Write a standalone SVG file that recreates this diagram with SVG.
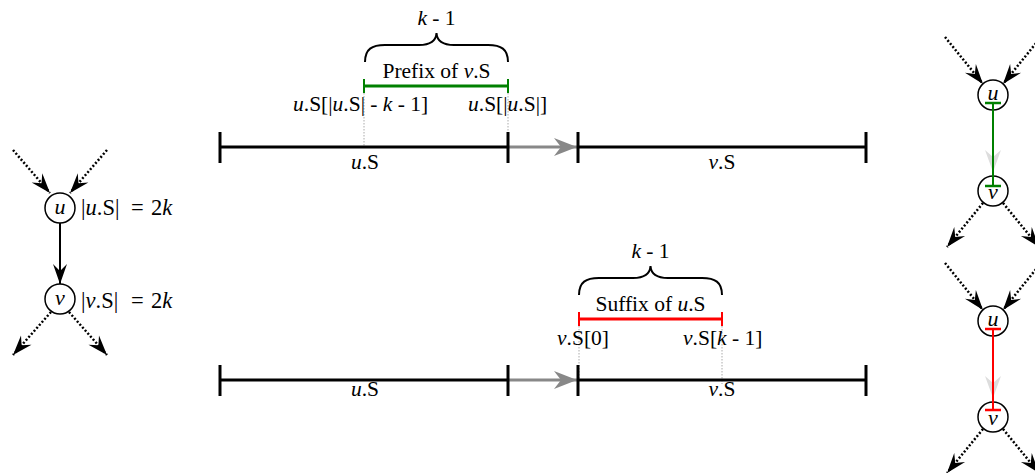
<svg xmlns="http://www.w3.org/2000/svg" width="1035" height="473" viewBox="0 0 1035 473">
<style>
text{font-family:"Liberation Serif","Times New Roman",serif;font-size:21.5px;fill:#000}
.i{font-style:italic}
.lbl{font-size:22.5px}
.nl{font-size:22px}
.node{fill:#fff;stroke:#000;stroke-width:1.5}
.dot{fill:none;stroke:#000;stroke-width:2.5;stroke-dasharray:2 2}
.bar{stroke:#000;stroke-width:3;fill:none}
.tick{stroke:#000;stroke-width:3}
.guide{stroke:#aaa;stroke-width:1;stroke-dasharray:1.5 1.5;fill:none}
.brace{fill:none;stroke:#000;stroke-width:2}
.mid{text-anchor:middle}
</style>
<defs>
<marker id="stealth" markerUnits="userSpaceOnUse" viewBox="-21 -8 22 16" refX="0" refY="0" markerWidth="22" markerHeight="16" orient="auto">
<path d="M0,0 L-20,-7 L-13,0 L-20,7 Z" fill="#000"/>
</marker>
<marker id="stealthGray" markerUnits="userSpaceOnUse" viewBox="-23 -10 24 20" refX="0" refY="0" markerWidth="24" markerHeight="20" orient="auto">
<path d="M0,0 L-23,-9 L-16,0 L-23,9 Z" fill="#888"/>
</marker>
<marker id="stealthLight" markerUnits="userSpaceOnUse" viewBox="-23 -10 24 20" refX="0" refY="0" markerWidth="24" markerHeight="20" orient="auto">
<path d="M0,0 L-22,-8 L-15,0 L-22,8 Z" fill="#ddd"/>
</marker>
</defs>

<!-- connectors -->
<g id="connectors">
  <!-- left graph -->
  <line class="dot" x1="13" y1="150" x2="50" y2="193" marker-end="url(#stealth)"/>
  <line class="dot" x1="107" y1="150" x2="70" y2="193" marker-end="url(#stealth)"/>
  <line x1="60" y1="223" x2="60" y2="284" stroke="#000" stroke-width="2" marker-end="url(#stealth)"/>
  <line class="dot" x1="51" y1="312" x2="13" y2="355" marker-end="url(#stealth)"/>
  <line class="dot" x1="69" y1="312" x2="107" y2="355" marker-end="url(#stealth)"/>
  <!-- right top graph -->
  <line class="dot" x1="945" y1="37" x2="983" y2="84" marker-end="url(#stealth)"/>
  <line class="dot" x1="1041" y1="37" x2="1003" y2="84" marker-end="url(#stealth)"/>
  <line x1="993" y1="110" x2="993" y2="172" stroke="#ddd" stroke-width="1.5" marker-end="url(#stealthLight)"/>
  <line class="dot" x1="983" y1="203" x2="947" y2="247" marker-end="url(#stealth)"/>
  <line class="dot" x1="1003" y1="203" x2="1039" y2="247" marker-end="url(#stealth)"/>
  <!-- right bottom graph -->
  <line class="dot" x1="945" y1="263" x2="983" y2="310" marker-end="url(#stealth)"/>
  <line class="dot" x1="1041" y1="263" x2="1003" y2="310" marker-end="url(#stealth)"/>
  <line x1="993" y1="336" x2="993" y2="398" stroke="#ddd" stroke-width="1.5" marker-end="url(#stealthLight)"/>
  <line class="dot" x1="983" y1="429" x2="947" y2="473" marker-end="url(#stealth)"/>
  <line class="dot" x1="1003" y1="429" x2="1039" y2="473" marker-end="url(#stealth)"/>
  <!-- gray arrows between bars -->
  <line x1="508" y1="147" x2="577" y2="147" stroke="#888" stroke-width="3" marker-end="url(#stealthGray)"/>
  <line x1="508" y1="380" x2="577" y2="380" stroke="#888" stroke-width="3" marker-end="url(#stealthGray)"/>
</g>

<!-- left graph nodes -->
<g id="left-u">
  <circle class="node" cx="60" cy="208" r="15"/>
  <text class="i mid nl" x="60" y="214">u</text>
</g>
<g id="left-v">
  <circle class="node" cx="60" cy="299" r="15"/>
  <text class="i mid nl" x="60" y="305">v</text>
</g>
<g id="left-u-label">
  <text class="lbl" x="81" y="215">|<tspan class="i">u</tspan>.S|</text>
  <text class="lbl" x="131" y="215">=</text>
  <text class="lbl" x="151" y="215">2<tspan class="i">k</tspan></text>
</g>
<g id="left-v-label">
  <text class="lbl" x="81" y="308">|<tspan class="i">v</tspan>.S|</text>
  <text class="lbl" x="131" y="308">=</text>
  <text class="lbl" x="151" y="308">2<tspan class="i">k</tspan></text>
</g>

<!-- top strings -->
<g id="top-strings">
  <line class="guide" x1="364" y1="93" x2="364" y2="147"/>
  <line class="guide" x1="508" y1="93" x2="508" y2="147"/>
  <line class="bar" x1="220" y1="147" x2="508" y2="147"/>
  <line class="bar" x1="578" y1="147" x2="866" y2="147"/>
  <line class="tick" x1="220" y1="132" x2="220" y2="163"/>
  <line class="tick" x1="508" y1="132" x2="508" y2="163"/>
  <line class="tick" x1="578" y1="132" x2="578" y2="163"/>
  <line class="tick" x1="866" y1="132" x2="866" y2="163"/>
  <text class="mid" x="365" y="169"><tspan class="i">u</tspan>.S</text>
  <text class="mid" x="722" y="169"><tspan class="i">v</tspan>.S</text>
</g>
<g id="prefix">
  <line x1="364" y1="86" x2="508" y2="86" stroke="#008000" stroke-width="3"/>
  <line x1="364" y1="79" x2="364" y2="93" stroke="#008000" stroke-width="2"/>
  <line x1="508" y1="79" x2="508" y2="93" stroke="#008000" stroke-width="2"/>
  <path class="brace" d="M365,62 C365,49 372,45 385,45 L419,45 C430,45 436,41 436.5,33 C437,41 443,45 454,45 L488,45 C501,45 508,49 508,62"/>
  <text class="mid" x="436.5" y="25"><tspan class="i">k</tspan> - 1</text>
  <text class="mid" x="436.5" y="78">Prefix of <tspan class="i">v</tspan>.S</text>
  <text x="293" y="111"><tspan class="i">u</tspan>.S[|<tspan class="i">u</tspan>.S| - <tspan class="i">k</tspan> - 1]</text>
  <text x="468" y="111"><tspan class="i">u</tspan>.S[|<tspan class="i">u</tspan>.S|]</text>
</g>

<!-- bottom strings -->
<g id="bottom-strings">
  <line class="guide" x1="579" y1="326" x2="579" y2="380"/>
  <line class="guide" x1="722" y1="326" x2="722" y2="384"/>
  <line class="bar" x1="220" y1="380" x2="508" y2="380"/>
  <line class="bar" x1="578" y1="380" x2="866" y2="380"/>
  <line class="tick" x1="220" y1="365" x2="220" y2="396"/>
  <line class="tick" x1="508" y1="365" x2="508" y2="396"/>
  <line class="tick" x1="578" y1="365" x2="578" y2="396"/>
  <line class="tick" x1="866" y1="365" x2="866" y2="396"/>
  <text class="mid" x="365" y="396"><tspan class="i">u</tspan>.S</text>
  <text class="mid" x="722" y="396"><tspan class="i">v</tspan>.S</text>
</g>
<g id="suffix">
  <line x1="579" y1="319" x2="722" y2="319" stroke="#ff0000" stroke-width="3"/>
  <line x1="579" y1="312" x2="579" y2="326" stroke="#ff0000" stroke-width="2"/>
  <line x1="722" y1="312" x2="722" y2="326" stroke="#ff0000" stroke-width="2"/>
  <path class="brace" d="M579,295 C579,282 586,278 599,278 L633,278 C644,278 650,274 650.5,266 C651,274 657,278 668,278 L702,278 C715,278 722,282 722,295"/>
  <text class="mid" x="650.5" y="258"><tspan class="i">k</tspan> - 1</text>
  <text class="mid" x="650.5" y="311">Suffix of <tspan class="i">u</tspan>.S</text>
  <text x="557" y="345"><tspan class="i">v</tspan>.S[0]</text>
  <text x="683" y="345"><tspan class="i">v</tspan>.S[<tspan class="i">k</tspan> - 1]</text>
</g>

<!-- right top graph -->
<g id="rt-u">
  <circle class="node" cx="993" cy="95" r="15"/>
  <text class="i mid nl" x="993" y="100">u</text>
</g>
<g id="rt-v">
  <circle class="node" cx="993" cy="191" r="15"/>
  <text class="i mid nl" x="993" y="199">v</text>
</g>
<g id="rt-prefix">
  <line x1="993" y1="103" x2="993" y2="186" stroke="#008000" stroke-width="2"/>
  <line x1="985" y1="103" x2="1001" y2="103" stroke="#008000" stroke-width="2.5"/>
  <line x1="985" y1="186" x2="1001" y2="186" stroke="#008000" stroke-width="2.5"/>
</g>

<!-- right bottom graph -->
<g id="rb-u">
  <circle class="node" cx="993" cy="321" r="15"/>
  <text class="i mid nl" x="993" y="326">u</text>
</g>
<g id="rb-v">
  <circle class="node" cx="993" cy="417" r="15"/>
  <text class="i mid nl" x="993" y="425">v</text>
</g>
<g id="rb-suffix">
  <line x1="993" y1="329" x2="993" y2="410" stroke="#ff0000" stroke-width="2"/>
  <line x1="985" y1="329" x2="1001" y2="329" stroke="#ff0000" stroke-width="2.5"/>
  <line x1="985" y1="410" x2="1001" y2="410" stroke="#ff0000" stroke-width="2.5"/>
</g>
</svg>
